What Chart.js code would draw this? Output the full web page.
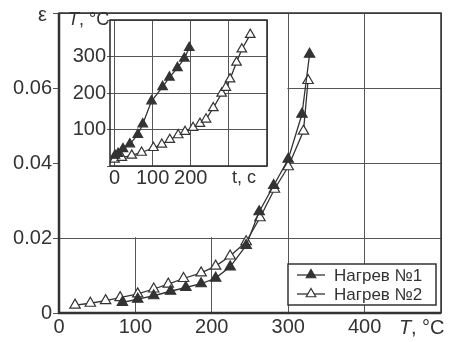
<!DOCTYPE html>
<html>
<head>
<meta charset="utf-8">
<script src="https://cdn.jsdelivr.net/npm/chart.js@4.4.1/dist/chart.umd.min.js"></script>
<style>
  body { margin: 0; background: #fff; }
  #wrap { position: relative; width: 450px; height: 342px; }
  #mainChart { position: absolute; left: 0; top: 0; }
  #insetChart { position: absolute; left: 60px; top: 7px; }
</style>
</head>
<body>
<div id="wrap">
  <canvas id="mainChart" width="450" height="342"></canvas>
  <canvas id="insetChart" width="220" height="190"></canvas>
</div>
<script>
// main plot: strain vs temperature
const mainT1 = [83, 103, 124, 146, 166, 186, 205, 224, 245, 262, 281, 300, 318, 328];
const mainEps1 = [0.0028, 0.0037, 0.0046, 0.0058, 0.0068, 0.0078, 0.0093, 0.0123, 0.018, 0.027, 0.034, 0.041, 0.053, 0.069];
const mainT2 = [21, 41, 61, 80, 103, 124, 143, 163, 186, 205, 224, 245, 263, 282, 300, 320, 326];
const mainEps2 = [0.0021, 0.0026, 0.0033, 0.0041, 0.0051, 0.0064, 0.0077, 0.0092, 0.0107, 0.0125, 0.0152, 0.019, 0.0254, 0.033, 0.039, 0.0485, 0.062];
const mainXTicks = [0, 100, 200, 300, 400, 500];
const mainYTicks = [0, 0.02, 0.04, 0.06, 0.08];

// inset: temperature vs time
const insetT1time = [1, 9, 22, 40, 61, 74, 97, 126, 144, 165, 183, 196];
const insetT1temp = [29, 34, 47, 60, 86, 115, 178, 217, 243, 269, 295, 324];
const insetT2time = [0, 19, 45, 71, 102, 124, 145, 167, 185, 206, 224, 240, 259, 281, 292, 303, 320, 334, 356];
const insetT2temp = [18, 23, 29, 37, 50, 59, 72, 85, 94, 105, 116, 128, 159, 199, 215, 238, 284, 320, 360];
const insetXTicks = [0, 100, 200, 300, 400];
const insetYTicks = [0, 100, 200, 300, 400];

const seriesNames = ['Нагрев №1', 'Нагрев №2'];

const ink = '#333';
const gridInk = '#555';
const fontFamily = "'Liberation Sans', Arial, sans-serif";

const toPoints = (xs, ys) => xs.map((x, i) => ({ x: x, y: ys[i] }));

const makeSets = (x1, y1, x2, y2, r) => [{
    label: seriesNames[0],
    data: toPoints(x1, y1),
    borderColor: ink,
    borderWidth: 1.3,
    pointStyle: 'triangle',
    pointRadius: r,
    pointBorderColor: ink,
    pointBackgroundColor: ink,
    pointBorderWidth: 1.2,
    tension: 0
}, {
    label: seriesNames[1],
    data: toPoints(x2, y2),
    borderColor: ink,
    borderWidth: 1.3,
    pointStyle: 'triangle',
    pointRadius: r,
    pointBorderColor: ink,
    pointBackgroundColor: '#fff',
    pointBorderWidth: 1.2,
    tension: 0
}];

// frame, blank cell block for the inset, axis names and legend
const mainDecor = {
    id: 'mainDecor',
    beforeDatasetsDraw(chart) {
        const { ctx, chartArea: a, scales } = chart;
        const xr = scales.x.getPixelForValue(300);
        const yb = scales.y.getPixelForValue(0.02);
        ctx.save();
        ctx.fillStyle = '#fff';
        ctx.fillRect(a.left + 1, a.top + 1, xr - a.left - 1.8, yb - a.top - 1.8);
        ctx.restore();
    },
    afterDraw(chart) {
        const { ctx, chartArea: a } = chart;
        ctx.save();
        ctx.strokeStyle = ink;
        ctx.lineWidth = 1.5;
        ctx.strokeRect(a.left, a.top, a.right - a.left, a.bottom - a.top);
        ctx.lineWidth = 2.5;
        ctx.beginPath();
        ctx.moveTo(a.left, a.top);
        ctx.lineTo(a.left, a.bottom);
        ctx.lineTo(a.right, a.bottom);
        ctx.stroke();

        ctx.fillStyle = ink;
        ctx.textBaseline = 'middle';
        ctx.font = '20px ' + fontFamily;
        ctx.fillText('ε', 38, 15);
        // axis name T, °C
        ctx.font = 'italic 20px ' + fontFamily;
        ctx.fillText('T', 399, 328);
        ctx.font = '20px ' + fontFamily;
        ctx.fillText(', °C', 411, 328);

        // legend box
        const bx = 288, by = 264, bw = 148, bh = 41;
        ctx.fillStyle = '#fff';
        ctx.fillRect(bx, by, bw, bh);
        ctx.lineWidth = 1.5;
        ctx.strokeRect(bx, by, bw, bh);
        const rows = [275, 294];
        const fills = [ink, '#fff'];
        rows.forEach((ry, i) => {
            ctx.lineWidth = 1.3;
            ctx.strokeStyle = ink;
            ctx.beginPath();
            ctx.moveTo(297, ry);
            ctx.lineTo(325, ry);
            ctx.stroke();
            const r = 5.5;
            ctx.beginPath();
            ctx.moveTo(311, ry - r);
            ctx.lineTo(311 + r * 0.866, ry + r / 2);
            ctx.lineTo(311 - r * 0.866, ry + r / 2);
            ctx.closePath();
            ctx.fillStyle = fills[i];
            ctx.fill();
            ctx.lineWidth = 1.2;
            ctx.stroke();
            ctx.fillStyle = ink;
            ctx.font = '17px ' + fontFamily;
            ctx.fillText(seriesNames[i], 334, ry + 1);
        });
        ctx.restore();
    }
};

new Chart(document.getElementById('mainChart'), {
    type: 'line',
    data: { datasets: makeSets(mainT1, mainEps1, mainT2, mainEps2, 6) },
    options: {
        responsive: false,
        animation: false,
        devicePixelRatio: 1,
        layout: { padding: { top: 7, right: 9, left: 0, bottom: 0 } },
        plugins: { legend: { display: false }, tooltip: { enabled: false } },
        scales: {
            x: {
                type: 'linear', min: 0, max: 500,
                afterBuildTicks: s => { s.ticks = mainXTicks.map(v => ({ value: v })); },
                afterFit: s => { s.height = 29; },
                border: { display: false },
                grid: { color: gridInk, lineWidth: 1, drawTicks: false },
                ticks: {
                    padding: 2, color: ink, maxRotation: 0,
                    font: { family: fontFamily, size: 20 },
                    callback: v => v === 500 ? '' : String(v)
                }
            },
            y: {
                type: 'linear', min: 0, max: 0.08,
                afterBuildTicks: s => { s.ticks = mainYTicks.map(v => ({ value: v })); },
                afterFit: s => { s.width = 59; },
                border: { display: false },
                grid: { color: gridInk, lineWidth: 1, tickLength: 6 },
                ticks: {
                    padding: 1, color: ink,
                    font: { family: fontFamily, size: 20 },
                    callback: v => v === 0.08 ? '' : (v === 0 ? '0' : v.toFixed(2))
                }
            }
        }
    },
    plugins: [mainDecor]
});

const insetDecor = {
    id: 'insetDecor',
    afterDraw(chart) {
        const { ctx, chartArea: a } = chart;
        ctx.save();
        ctx.strokeStyle = ink;
        ctx.lineWidth = 1.6;
        ctx.strokeRect(a.left, a.top, a.right - a.left, a.bottom - a.top);
        ctx.fillStyle = ink;
        ctx.textBaseline = 'middle';
        ctx.font = 'italic 18px ' + fontFamily;
        ctx.fillText('T', 8, 13);
        ctx.font = '18px ' + fontFamily;
        ctx.fillText(', °C', 19, 13);
        ctx.font = '18px ' + fontFamily;
        ctx.fillText('t, c', 172, 171);
        ctx.restore();
    }
};

new Chart(document.getElementById('insetChart'), {
    type: 'line',
    data: { datasets: makeSets(insetT1time, insetT1temp, insetT2time, insetT2temp, 5.5) },
    options: {
        responsive: false,
        animation: false,
        devicePixelRatio: 1,
        layout: { padding: { top: 6, right: 13, left: 0, bottom: 0 } },
        plugins: { legend: { display: false }, tooltip: { enabled: false } },
        scales: {
            x: {
                type: 'linear', min: -12, max: 400,
                afterBuildTicks: s => { s.ticks = insetXTicks.map(v => ({ value: v })); },
                afterFit: s => { s.height = 31; },
                border: { display: false },
                grid: { color: gridInk, lineWidth: 1, drawTicks: false },
                ticks: {
                    padding: 0, color: ink, maxRotation: 0, autoSkip: false,
                    font: { family: fontFamily, size: 20 },
                    callback: v => v >= 300 ? '' : String(v)
                }
            },
            y: {
                type: 'linear', min: 0, max: 400,
                afterBuildTicks: s => { s.ticks = insetYTicks.map(v => ({ value: v })); },
                afterFit: s => { s.width = 50; },
                border: { display: false },
                grid: { color: gridInk, lineWidth: 1, tickLength: 3 },
                ticks: {
                    padding: 1, color: ink,
                    font: { family: fontFamily, size: 20 },
                    callback: v => (v === 0 || v === 400) ? '' : String(v)
                }
            }
        }
    },
    plugins: [insetDecor]
});
</script>
</body>
</html>
